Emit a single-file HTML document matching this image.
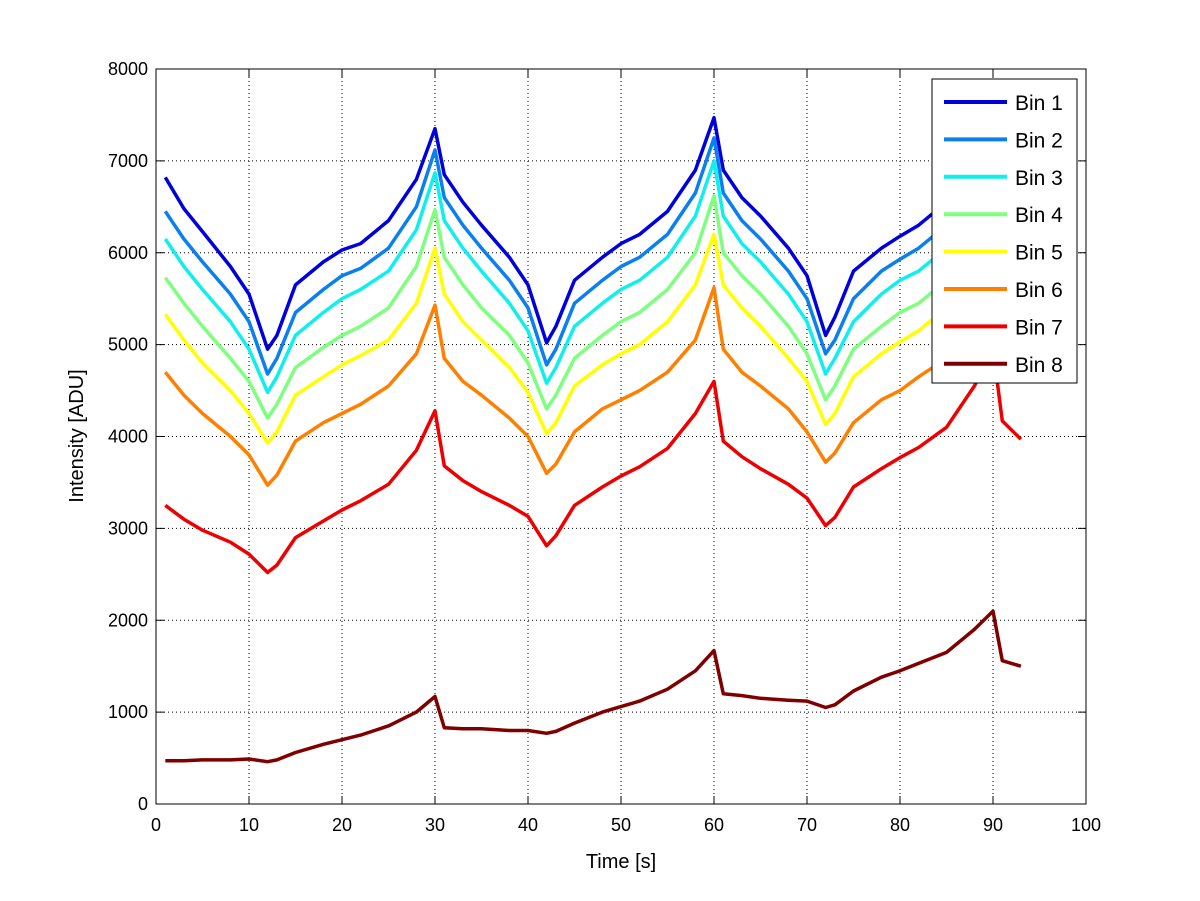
<!DOCTYPE html>
<html><head><meta charset="utf-8"><style>
body{margin:0;background:#fff}
svg{display:block;font-family:"Liberation Sans",Arial,sans-serif}
</style></head><body>
<svg id="chart" width="1200" height="901">
<rect width="1200" height="901" fill="#fff"/>
<g id="grid"></g>
<g id="lines"></g>
<rect x="156" y="69" width="930" height="735" fill="none" stroke="#000" stroke-width="1"/>
<g id="ticks"></g>
<text x="621" y="868" font-size="20" text-anchor="middle">Time [s]</text>
<text transform="translate(83,436) rotate(-90)" font-size="20" text-anchor="middle">Intensity [ADU]</text>
<g id="legend"></g>
</svg>
<script>
const times=[1,3,5,8,10,12,13,15,18,20,22,25,28,30,31,33,35,38,40,42,43,45,48,50,52,55,58,60,61,63,65,68,70,72,73,75,78,80,82,85,88,90,91,93];
const bin1=[6820,6480,6230,5850,5550,4950,5100,5650,5900,6030,6100,6350,6800,7350,6850,6550,6300,5950,5650,5020,5200,5700,5950,6100,6200,6450,6900,7470,6900,6600,6400,6050,5750,5100,5300,5800,6050,6180,6300,6550,7100,7700,7100,6850];
const bin2=[6450,6150,5900,5550,5250,4680,4850,5350,5600,5750,5830,6050,6500,7120,6600,6300,6050,5700,5400,4780,4950,5450,5700,5850,5950,6200,6650,7250,6650,6350,6150,5800,5500,4900,5050,5500,5800,5930,6050,6300,6850,7450,6850,6600];
const bin3=[6150,5850,5600,5250,4950,4480,4650,5100,5350,5500,5600,5800,6250,6870,6350,6050,5800,5450,5150,4580,4750,5200,5450,5600,5700,5950,6400,7000,6400,6100,5900,5550,5250,4680,4850,5250,5550,5700,5800,6050,6600,7200,6600,6350];
const bin4=[5730,5450,5200,4850,4600,4200,4350,4750,4970,5100,5200,5400,5850,6470,5950,5650,5400,5100,4800,4300,4450,4850,5100,5250,5350,5600,6000,6620,6000,5750,5550,5200,4900,4400,4550,4950,5200,5350,5450,5700,6250,6850,6250,6000];
const bin5=[5330,5050,4800,4500,4250,3930,4050,4450,4650,4780,4880,5050,5450,6050,5550,5250,5050,4750,4480,4030,4150,4550,4780,4900,5000,5250,5650,6200,5650,5400,5200,4850,4600,4130,4250,4650,4900,5030,5150,5400,5900,6500,5900,5650];
const bin6=[4700,4450,4250,4000,3800,3470,3580,3950,4150,4250,4350,4550,4900,5430,4850,4600,4450,4200,4000,3600,3700,4050,4300,4400,4500,4700,5050,5620,4950,4700,4550,4300,4050,3720,3820,4150,4400,4500,4650,4850,5250,5800,5200,4950];
const bin7=[3250,3100,2980,2850,2720,2520,2600,2900,3080,3200,3300,3480,3850,4280,3680,3520,3400,3250,3130,2810,2920,3250,3450,3570,3670,3870,4250,4600,3950,3780,3650,3480,3330,3030,3120,3450,3650,3770,3880,4100,4550,4950,4170,3970];
const bin8=[470,470,480,480,490,460,480,560,650,700,750,850,1000,1170,830,820,820,800,800,770,790,880,1000,1060,1120,1250,1450,1670,1200,1180,1150,1130,1120,1050,1080,1230,1380,1450,1530,1650,1900,2100,1560,1500];
const seriesNames=["Bin 1","Bin 2","Bin 3","Bin 4","Bin 5","Bin 6","Bin 7","Bin 8"];
const seriesColors=["#0000dd","#0a7ff0","#10eeee","#7fff7f","#ffff00","#ff8000","#ee0000","#800000"];
const xTicks=[0,10,20,30,40,50,60,70,80,90,100];
const yTicks=[0,1000,2000,3000,4000,5000,6000,7000,8000];
const allSeries=[bin1,bin2,bin3,bin4,bin5,bin6,bin7,bin8];
const NS="http://www.w3.org/2000/svg";
const X=v=>156+v*9.3, Y=v=>804-v*735/8000;
function mk(tag,attrs,parent){const e=document.createElementNS(NS,tag);for(const k in attrs)e.setAttribute(k,attrs[k]);parent.appendChild(e);return e;}
const grid=document.getElementById('grid'),ticks=document.getElementById('ticks');
xTicks.forEach(t=>{
  if(t>0&&t<100){const g=mk('line',{x1:X(t),x2:X(t),y1:69,y2:804,stroke:'#000','stroke-width':1,'stroke-dasharray':'1,3'},grid);
  
  }
  mk('line',{x1:X(t),x2:X(t),y1:804,y2:796,stroke:'#000'},ticks);
  mk('line',{x1:X(t),x2:X(t),y1:69,y2:77,stroke:'#000'},ticks);
  const l=mk('text',{x:X(t),y:831,'font-size':18,'text-anchor':'middle'},ticks);l.textContent=t;
  
  
});
yTicks.forEach(t=>{
  if(t>0&&t<8000){const g=mk('line',{x1:156,x2:1086,y1:Y(t),y2:Y(t),stroke:'#000','stroke-width':1,'stroke-dasharray':'1,3'},grid);
  
  }
  mk('line',{x1:156,x2:164,y1:Y(t),y2:Y(t),stroke:'#000'},ticks);
  mk('line',{x1:1086,x2:1078,y1:Y(t),y2:Y(t),stroke:'#000'},ticks);
  const l=mk('text',{x:148,y:Y(t)+6,'font-size':18,'text-anchor':'end'},ticks);l.textContent=t;
  
  
});
const lines=document.getElementById('lines');
for(let i=allSeries.length-1;i>=0;i--){
  const d=allSeries[i].map((v,j)=>(j?'L':'M')+X(times[j]).toFixed(1)+','+Y(v).toFixed(1)).join('');
  const p=mk('path',{d:d,fill:'none',stroke:seriesColors[i],'stroke-width':3.5,'stroke-linejoin':'round'},lines);
  
  
}
const lg=document.getElementById('legend');
const box=mk('rect',{x:932,y:79,width:145,height:304,fill:'#fff',stroke:'#000'},lg);


seriesNames.forEach((n,i)=>{
  const y=102+i*37.4;
  const ln=mk('line',{x1:944,x2:1007,y1:y,y2:y,stroke:seriesColors[i],'stroke-width':4},lg);
  
  
  const t=mk('text',{x:1015,y:y+8,'font-size':21},lg);t.textContent=n;
  
  
});
</script>
</body></html>
